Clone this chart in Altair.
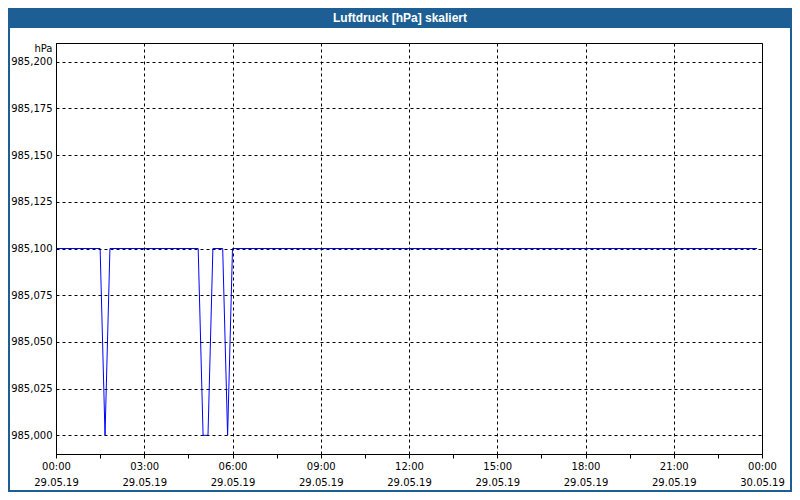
import altair as alt
import pandas as pd

# ---- data ----
TIMES = ["2019-05-29T00:00:00", "2019-05-29T01:30:00", "2019-05-29T01:40:00",
         "2019-05-29T01:50:00", "2019-05-29T04:50:00", "2019-05-29T05:00:00",
         "2019-05-29T05:10:00", "2019-05-29T05:20:00", "2019-05-29T05:40:00",
         "2019-05-29T05:50:00", "2019-05-29T06:00:00", "2019-05-29T23:50:00"]
PRESSURE = [985.1, 985.1, 985.0, 985.1, 985.1, 985.0, 985.0, 985.1, 985.1,
            985.0, 985.1, 985.1]

X_DOMAIN = ["2019-05-29T00:00:00", "2019-05-30T00:00:00"]
X_TICKS = ["2019-05-29T00:00:00", "2019-05-29T01:30:00", "2019-05-29T03:00:00",
           "2019-05-29T04:30:00", "2019-05-29T06:00:00", "2019-05-29T07:30:00",
           "2019-05-29T09:00:00", "2019-05-29T10:30:00", "2019-05-29T12:00:00",
           "2019-05-29T13:30:00", "2019-05-29T15:00:00", "2019-05-29T16:30:00",
           "2019-05-29T18:00:00", "2019-05-29T19:30:00", "2019-05-29T21:00:00",
           "2019-05-29T22:30:00", "2019-05-30T00:00:00"]
Y_DOMAIN = [984.99, 985.21]
Y_TICKS = [985.0, 985.025, 985.05, 985.075, 985.1, 985.125, 985.15, 985.175, 985.2]

TITLE = "Luftdruck [hPa] skaliert"
UNIT = "hPa"

# ---- layout ----
TOTAL_W, TOTAL_H = 784, 484
PAD_L, PAD_T = 48, 35
W, H = 706, 411
PAD_R = TOTAL_W - PAD_L - W
PAD_B = TOTAL_H - PAD_T - H
BAR_H = 20
BAR_COLOR = "#1D5F94"
FONT = "DejaVu Sans"

df = pd.DataFrame({"time": TIMES, "value": PRESSURE})

major = "(hours(datum.value) % 3 == 0) && (minutes(datum.value) == 0)"

x_axis = alt.Axis(
    values=[pd.Timestamp(t).isoformat() for t in X_TICKS],
    title=None,
    labelExpr=f"{major} ? [timeFormat(datum.value, '%H:%M'), timeFormat(datum.value, '%d.%m.%y')] : ''",
    labelLineHeight=16,
    labelPadding=3,
    labelBaseline="top",
    labelFlush=False,
    labelOverlap=False,
    tickSize=4,
    tickColor="black",
    domainColor="black",
    grid=True,
    gridColor="black",
    gridDash=[3, 3],
    gridOpacity={"condition": {"test": major, "value": 1}, "value": 0},
    labelColor="black",
    labelFont=FONT,
    labelFontSize=10,
    zindex=1,
)

y_axis = alt.Axis(
    values=Y_TICKS,
    title=UNIT,
    titleAngle=0,
    titleAlign="right",
    titleBaseline="top",
    titleX=-4,
    titleY=0,
    titleFont=FONT,
    titleFontSize=10,
    titleFontWeight="normal",
    titleColor="black",
    labelExpr="replace(format(datum.value, '.3f'), '.', ',')",
    labelPadding=4,
    labelColor="black",
    labelFont=FONT,
    labelFontSize=10,
    ticks=False,
    domainColor="black",
    grid=True,
    gridColor="black",
    gridDash=[3, 3],
    gridOpacity=1,
    zindex=1,
)

line = alt.Chart(df).mark_line(color="#0000FF", strokeWidth=1, clip=True).encode(
    x=alt.X("time:T", scale=alt.Scale(domain=X_DOMAIN), axis=x_axis),
    y=alt.Y("value:Q", scale=alt.Scale(domain=Y_DOMAIN, zero=False, nice=False), axis=y_axis),
)

one_row = alt.Data(values=[{"t": TITLE}])

frame = alt.Chart(one_row).mark_rect(
    fill="white", fillOpacity=0, stroke=BAR_COLOR, strokeWidth=2,
).encode(
    x=alt.value(-PAD_L + 1), x2=alt.value(W + PAD_R - 1),
    y=alt.value(-PAD_T + 1), y2=alt.value(H + PAD_B - 1),
)

bar = alt.Chart(one_row).mark_rect(color=BAR_COLOR).encode(
    x=alt.value(-PAD_L), x2=alt.value(W + PAD_R),
    y=alt.value(-PAD_T), y2=alt.value(-PAD_T + BAR_H),
)

title_text = alt.Chart(one_row).mark_text(
    color="white", font="Liberation Sans", fontSize=12, fontWeight="bold",
    align="center", baseline="middle",
).encode(
    text="t:N",
    x=alt.value(TOTAL_W / 2 - PAD_L),
    y=alt.value(-PAD_T + BAR_H / 2),
)

chart = alt.layer(frame, line, bar, title_text).properties(
    width=W, height=H,
    autosize=alt.AutoSizeParams(type="none"),
    padding={"left": PAD_L, "top": PAD_T, "right": PAD_R, "bottom": PAD_B},
    background="white",
).configure_view(stroke="black", strokeWidth=1)

chart.save("out.html", embed_options={"renderer": "svg", "actions": False})
